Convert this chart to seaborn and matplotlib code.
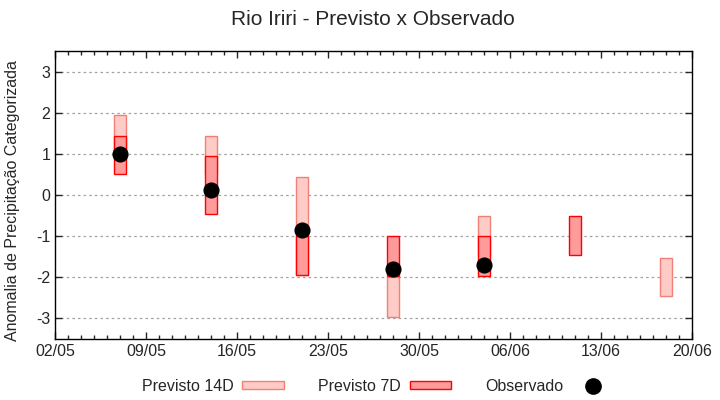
import pandas as pd
import numpy as np
import matplotlib
matplotlib.use("Agg")
import matplotlib.pyplot as plt
import matplotlib.dates as mdates
from matplotlib.patches import Patch
from matplotlib.lines import Line2D
import seaborn as sns

# Data
datas = ["2024-05-07", "2024-05-14", "2024-05-21", "2024-05-28",
         "2024-06-04", "2024-06-11", "2024-06-18"]
prev14_min = [0.95, 0.50, -1.95, -2.97, -1.45, np.nan, -2.45]
prev14_max = [1.95, 1.44, 0.43, -2.00, -0.51, np.nan, -1.52]
prev7_min = [0.50, -0.45, -1.95, -1.97, -1.96, -1.45, np.nan]
prev7_max = [1.44, 0.94, -1.00, -1.00, -1.00, -0.51, np.nan]
observado = [1.00, 0.13, -0.85, -1.81, -1.71, np.nan, np.nan]

df = pd.DataFrame({
    "data": pd.to_datetime(datas),
    "p14_min": prev14_min, "p14_max": prev14_max,
    "p7_min": prev7_min, "p7_max": prev7_max,
    "obs": observado,
})

sns.set_style("ticks")
plt.rcParams['font.family'] = ['Liberation Sans', 'DejaVu Sans']
plt.rcParams['axes.unicode_minus'] = False

fig = plt.figure(figsize=(7.2, 4), dpi=100)
ax = fig.add_axes([0.0764, 0.1525, 0.8847, 0.72])

c14_face, c14_edge = "#ffcbc6", "#f08078"
c7_face, c7_edge = "#ff9b9b", "#ff0000"
largura = 0.95

# Previsto 14D
d14 = df.dropna(subset=["p14_min"])
ax.bar(d14["data"], d14["p14_max"] - d14["p14_min"], bottom=d14["p14_min"],
       width=largura, color=c14_face, edgecolor=c14_edge, linewidth=1.0, zorder=2)

# Previsto 7D
d7 = df.dropna(subset=["p7_min"])
ax.bar(d7["data"], d7["p7_max"] - d7["p7_min"], bottom=d7["p7_min"],
       width=largura, color=c7_face, edgecolor=c7_edge, linewidth=1.0, zorder=3)

# Observado
sns.scatterplot(data=df.dropna(subset=["obs"]), x="data", y="obs", ax=ax,
                color="black", s=135, edgecolor="black", linewidth=0, zorder=4)

ax.set_xlim(pd.Timestamp("2024-05-02"), pd.Timestamp("2024-06-20"))
ax.set_ylim(-3.5, 3.5)
ax.set_yticks(range(-3, 4))
ax.set_xticks(pd.date_range("2024-05-02", "2024-06-20", freq="7D"))
ax.xaxis.set_minor_locator(mdates.DayLocator())
ax.xaxis.set_major_formatter(mdates.DateFormatter("%d/%m"))

ax.yaxis.grid(True, color="#a0a0a0", linestyle=(0, (2, 2.5)), linewidth=0.9, zorder=0)
ax.xaxis.grid(False)
ax.set_axisbelow(True)

ax.tick_params(which="both", direction="in", top=True, right=True, labelsize=11.5)
ax.tick_params(which="major", length=5, width=1)
ax.tick_params(which="minor", length=3, width=1)
for s in ax.spines.values():
    s.set_linewidth(1)
    s.set_color("black")

ax.set_xlabel("")
ax.set_ylabel("Anomalia de Precipitação Categorizada", fontsize=11.5)
ax.yaxis.set_label_coords(-0.055, 0.48)
fig.text(0.518, 0.952, "Rio Iriri - Previsto x Observado", fontsize=15,
         ha="center", va="center")

handles = [
    Patch(facecolor=c14_face, edgecolor=c14_edge, linewidth=1.0),
    Patch(facecolor=c7_face, edgecolor=c7_edge, linewidth=1.0),
    Line2D([], [], linestyle="", marker="o", color="black", markersize=11),
]
fig.legend(handles, ["Previsto 14D", "Previsto 7D", "Observado"],
           loc="center", bbox_to_anchor=(0.525, 0.034), ncol=3, frameon=False,
           markerfirst=False, fontsize=11.5, handlelength=2.6, handleheight=0.4,
           handletextpad=0.55, columnspacing=2.15)

fig.savefig("out.png", dpi=100)
